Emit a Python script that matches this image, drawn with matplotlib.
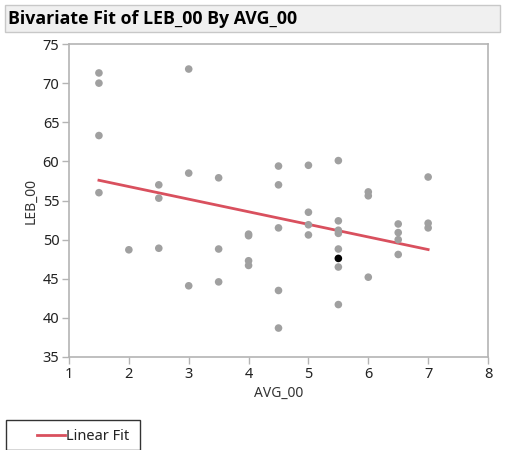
import matplotlib
matplotlib.use("Agg")
import matplotlib.pyplot as plt
from matplotlib.patches import Rectangle
from matplotlib.lines import Line2D
import numpy as np

plt.rcParams['font.family'] = ['Noto Sans', 'DejaVu Sans']

avg_00 = [1.5, 1.5, 1.5, 1.5,
          2.0,
          2.5, 2.5, 2.5,
          3.0, 3.0, 3.0,
          3.5, 3.5, 3.5,
          4.0, 4.0, 4.0, 4.0,
          4.5, 4.5, 4.5, 4.5, 4.5,
          5.0, 5.0, 5.0, 5.0,
          5.5, 5.5, 5.5, 5.5, 5.5, 5.5, 5.5,
          6.0, 6.0, 6.0,
          6.5, 6.5, 6.5, 6.5,
          7.0, 7.0, 7.0]
leb_00 = [71.3, 70.0, 63.3, 56.0,
          48.7,
          57.0, 55.3, 48.9,
          71.8, 58.5, 44.1,
          57.9, 48.8, 44.6,
          50.7, 50.5, 47.3, 46.7,
          59.4, 57.0, 51.5, 43.5, 38.7,
          59.5, 53.5, 51.9, 50.6,
          60.1, 52.4, 51.2, 50.8, 48.8, 46.5, 41.7,
          56.1, 55.6, 45.2,
          52.0, 50.9, 50.0, 48.1,
          58.0, 52.1, 51.5]
highlight_x = [5.5]
highlight_y = [47.6]

fit_x = [1.5, 7.0]
fit_intercept = 60.0
fit_slope = -1.61

x_ticks = [1, 2, 3, 4, 5, 6, 7, 8]
y_ticks = [35, 40, 45, 50, 55, 60, 65, 70, 75]

W, H = 531, 450
fig = plt.figure(figsize=(W / 100, H / 100), dpi=100)

# title bar
fig.patches.append(Rectangle((5 / W, 1 - 32 / H), 495 / W, 27 / H,
                             transform=fig.transFigure, facecolor='#f0f0f0',
                             edgecolor='#c8c8c8', linewidth=1))
fig.text(8 / W, 1 - 19 / H, "Bivariate Fit of LEB_00 By AVG_00",
         fontsize=12.8, fontweight='bold', va='center', ha='left', color='#000000',
         family=['Open Sans', 'DejaVu Sans'])

ax = fig.add_axes([69 / W, 1 - 357 / H, (488 - 69) / W, (357 - 44) / H])
ax.scatter(avg_00, leb_00, s=30, color='#a0a0a0', edgecolors='none', zorder=3)
ax.scatter(highlight_x, highlight_y, s=30, color='#000000', edgecolors='none', zorder=4)
fx = np.array(fit_x)
ax.plot(fx, fit_intercept + fit_slope * fx, color='#d9505e', linewidth=2, zorder=2)

ax.set_xlim(1, 8)
ax.set_ylim(35, 75)
ax.set_xticks(x_ticks)
ax.set_yticks(y_ticks)
for s in ax.spines.values():
    s.set_color('#b4b4b4')
    s.set_linewidth(1.2)
ax.tick_params(direction='out', length=5, width=1, color='#b4b4b4',
               labelsize=10.5, labelcolor='#222222', pad=2)
ax.set_xlabel("AVG_00", fontsize=10, color='#333333', labelpad=3)
ax.set_ylabel("LEB_00", fontsize=10, color='#333333', labelpad=3)

# legend box
fig.patches.append(Rectangle((6 / W, 1 - 450 / H), 134 / W, 30 / H,
                             transform=fig.transFigure, facecolor='white',
                             edgecolor='#333333', linewidth=1))
fig.lines.append(Line2D([37 / W, 65 / W], [1 - 435 / H, 1 - 435 / H],
                        transform=fig.transFigure, color='#d9505e', linewidth=2))
fig.text(66 / W, 1 - 436 / H, "Linear Fit", fontsize=10.5, va='center',
         ha='left', color='#222222')

fig.savefig("out.png", dpi=100)
